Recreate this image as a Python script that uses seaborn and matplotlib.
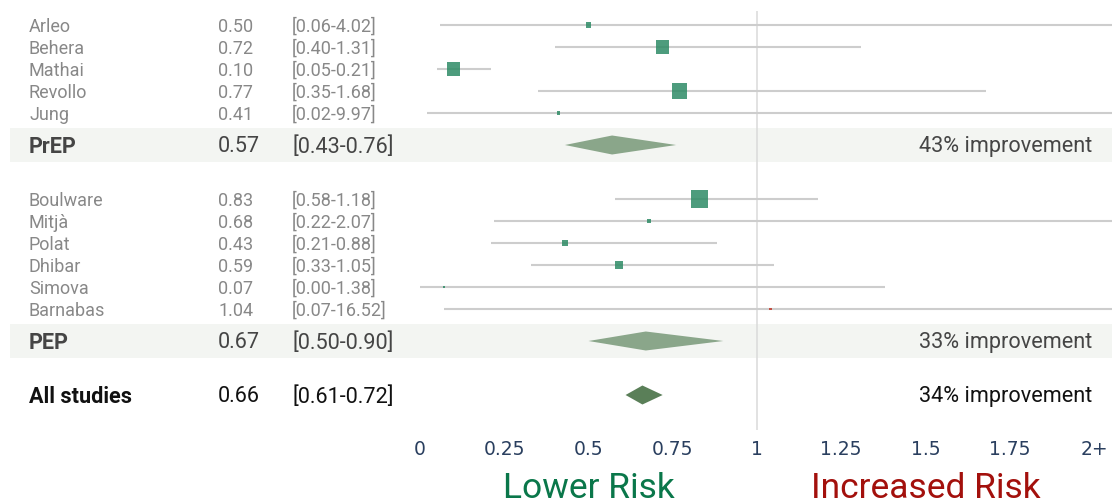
import numpy as np
import pandas as pd
import matplotlib
matplotlib.use("Agg")
import matplotlib.pyplot as plt
import seaborn as sns
from matplotlib import transforms

# ---------------- data ----------------
prep_studies = ["Arleo", "Behera", "Mathai", "Revollo", "Jung"]
prep_est = [0.50, 0.72, 0.10, 0.77, 0.41]
prep_low = [0.06, 0.40, 0.05, 0.35, 0.02]
prep_high = [4.02, 1.31, 0.21, 1.68, 9.97]
prep_weight = [2.5, 16.7, 16.7, 22.3, 0.9]

pep_studies = ["Boulware", "Mitjà", "Polat", "Dhibar", "Simova", "Barnabas"]
pep_est = [0.83, 0.68, 0.43, 0.59, 0.07, 1.04]
pep_low = [0.58, 0.22, 0.21, 0.33, 0.00, 0.07]
pep_high = [1.18, 2.07, 0.88, 1.05, 1.38, 16.52]
pep_weight = [28.6, 1.6, 3.6, 6.3, 0.4, 0.4]

summary_labels = ["PrEP", "PEP", "All studies"]
summary_est = [0.57, 0.67, 0.66]
summary_low = [0.43, 0.50, 0.61]
summary_high = [0.76, 0.90, 0.72]
summary_text = ["43% improvement", "33% improvement", "34% improvement"]

tick_values = [0, 0.25, 0.5, 0.75, 1, 1.25, 1.5, 1.75, 2]
tick_labels = ["0", "0.25", "0.5", "0.75", "1", "1.25", "1.5", "1.75", "2+"]

# ---------------- layout (pixel rows from top) ----------------
W, H = 1112, 504
ROW = 22
first_row = 25
gap_to_summary = 32
gap_after_summary = 54
text_dy = 1.8

rows_y = []
sum_y = []
y = first_row
for grp in (prep_studies, pep_studies):
    ys = []
    for i in range(len(grp)):
        ys.append(y)
        y += ROW
    y = ys[-1] + gap_to_summary
    rows_y.append(ys)
    sum_y.append(y)
    y += gap_after_summary
sum_y.append(y)

df = pd.DataFrame({
    "study": prep_studies + pep_studies,
    "est": prep_est + pep_est,
    "low": prep_low + pep_low,
    "high": prep_high + pep_high,
    "weight": prep_weight + pep_weight,
    "y": rows_y[0] + rows_y[1],
})
df["direction"] = np.where(df["est"] > 1, "higher", "lower")

# ---------------- figure ----------------
sns.set_theme(style="white")
plt.rcParams["font.family"] = ["Roboto", "DejaVu Sans"]

fig = plt.figure(figsize=(W / 100, H / 100), dpi=100)
ax_bottom_px = 430
ax = fig.add_axes([0, (H - ax_bottom_px) / H, 1, ax_bottom_px / H])
x0_px, x1_px = 420, 757
ppu = x1_px - x0_px
ax.set_xlim(-x0_px / ppu, (W - x0_px) / ppu)
ax.set_ylim(ax_bottom_px, 0)
for s in ax.spines.values():
    s.set_visible(False)

# summary bands
xl = ax.get_xlim()
band_left = (10 - x0_px) / ppu
for yy in sum_y[:2]:
    ax.fill_between([band_left, xl[1]], yy - 17, yy + 17, color="#f3f5f2", lw=0, zorder=0)

# reference line at 1
ax.vlines(1, 11, ax_bottom_px, color="#dadada", lw=1.1, zorder=1)

# CI lines
ax.hlines(df["y"], df["low"], df["high"], color="#cdcdcd", lw=1.5, zorder=2)

# study markers (area proportional to weight)
k = 5.6
sns.scatterplot(data=df, x="est", y="y", hue="direction",
                palette={"lower": "#2e8b66", "higher": "#c0392b"},
                size="weight", size_norm=(0, 30), sizes=(0, 30 * k),
                marker="s", linewidth=0, alpha=0.85, legend=False,
                ax=ax, zorder=3)

# summary diamonds
dcolors = ["#8aa68a", "#8aa68a", "#5a7f58"]
for yy, lo, es, hi, c in zip(sum_y, summary_low, summary_est, summary_high, dcolors):
    h = 9.5
    ax.fill([lo, es, hi, es], [yy, yy - h, yy, yy + h], color=c, lw=0, zorder=4)

# ---------------- text columns ----------------
tr = transforms.blended_transform_factory(ax.transAxes, ax.transData)
xn, xv, xc, xr = 29 / W, 218 / W, 292 / W, 1092 / W
study_color = "#888888"
fs_study = 13
fs_sum = 15.6
for _, r in df.iterrows():
    ty = r["y"] + text_dy
    ax.text(xn, ty, r["study"], transform=tr, va="center", ha="left",
            fontsize=fs_study, color=study_color)
    ax.text(xv, ty, f"{r['est']:.2f}", transform=tr, va="center", ha="left",
            fontsize=fs_study, color=study_color)
    ax.text(xc, ty, f"[{r['low']:.2f}-{r['high']:.2f}]", transform=tr,
            va="center", ha="left", fontsize=fs_study, color=study_color)

for i, (yy, lab, es, lo, hi, txt) in enumerate(zip(sum_y, summary_labels, summary_est,
                                                  summary_low, summary_high, summary_text)):
    col = "#454545" if i < 2 else "#111111"
    ty = yy + text_dy
    ax.text(xn, ty, lab, transform=tr, va="center", ha="left", fontsize=fs_sum,
            fontweight="bold", color=col)
    ax.text(xv, ty, f"{es:.2f}", transform=tr, va="center", ha="left", fontsize=fs_sum,
            color=col)
    ax.text(xc, ty, f"[{lo:.2f}-{hi:.2f}]", transform=tr, va="center", ha="left",
            fontsize=fs_sum, color=col)
    ax.text(xr, ty, txt, transform=tr, va="center", ha="right", fontsize=fs_sum,
            color=col)

# ---------------- x axis ----------------
ax.set_xticks(tick_values)
ax.set_xticklabels(tick_labels, fontfamily="DejaVu Sans", fontsize=13.5, color="#2a3f5f")
ax.tick_params(axis="x", length=0, pad=7)
ax.set_yticks([])
ax.set_xlabel("")
ax.set_ylabel("")

fig.text(x0_px / W + 0.5 * ppu / W, (H - 498) / H, "Lower Risk", ha="center",
         va="baseline", fontsize=25.5, color="#0a774a")
fig.text(x0_px / W + 1.5 * ppu / W, (H - 498) / H, "Increased Risk", ha="center",
         va="baseline", fontsize=25.5, color="#a3100c")

fig.savefig("out.png", dpi=100)
